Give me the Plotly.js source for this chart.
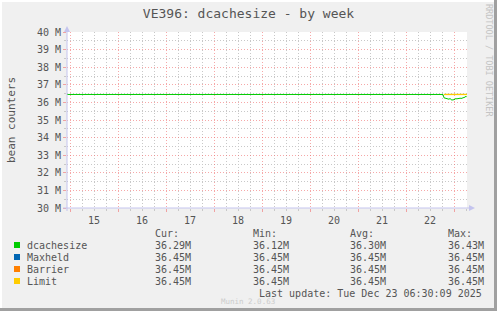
<!DOCTYPE html>
<html>
<head>
<meta charset="utf-8">
<script src="https://cdn.plot.ly/plotly-3.0.1.min.js"></script>
<style>
html,body{margin:0;padding:0;background:#f0f0f0;}
#chart{width:497px;height:311px;}
</style>
</head>
<body>
<div id="chart"></div>
<script>
// ---- data ----
const chartTitle = 'VE396: dcachesize - by week';
const yAxisLabel = 'bean counters';
const xRange = ['2025-12-14 22:30', '2025-12-23 06:30'];

const dcTimes = [
  '2025-12-14 22:30', '2025-12-15 12:00', '2025-12-16 12:00', '2025-12-17 12:00',
  '2025-12-18 12:00', '2025-12-19 12:00', '2025-12-20 12:00', '2025-12-21 12:00',
  '2025-12-22 12:00', '2025-12-22 18:30',
  '2025-12-22 19:00', '2025-12-22 19:30', '2025-12-22 20:00', '2025-12-22 20:30',
  '2025-12-22 21:00', '2025-12-22 21:30', '2025-12-22 22:00', '2025-12-22 22:30',
  '2025-12-22 23:00', '2025-12-22 23:30', '2025-12-23 00:00', '2025-12-23 00:30',
  '2025-12-23 01:00', '2025-12-23 01:30', '2025-12-23 02:00', '2025-12-23 02:30',
  '2025-12-23 03:00', '2025-12-23 03:30', '2025-12-23 04:00', '2025-12-23 04:30',
  '2025-12-23 05:00', '2025-12-23 05:30', '2025-12-23 06:00', '2025-12-23 06:30'
];
const dcValues = [
  36.45, 36.45, 36.45, 36.45, 36.45, 36.45, 36.45, 36.45, 36.45, 36.45,
  36.26, 36.24, 36.22, 36.24, 36.20, 36.18, 36.22, 36.15,
  36.12, 36.16, 36.14, 36.19, 36.22, 36.19, 36.23, 36.21,
  36.25, 36.22, 36.24, 36.22, 36.26, 36.30, 36.35, 36.29
];
const maxheldTimes = ['2025-12-22 19:00', '2025-12-23 06:30'];
const maxheldValues = [36.45, 36.45];
const barrierTimes = ['2025-12-22 19:00', '2025-12-23 06:30'];
const barrierValues = [36.45, 36.45];
const limitTimes = ['2025-12-22 19:00', '2025-12-23 06:30'];
const limitValues = [36.45, 36.45];

const seriesNames = ['dcachesize', 'Maxheld', 'Barrier', 'Limit'];
const seriesColors = ['#00CC00', '#0066B3', '#FF8000', '#FFCC00'];
const statHeaders = ['Cur:', 'Min:', 'Avg:', 'Max:'];
const curVals = ['36.29M', '36.45M', '36.45M', '36.45M'];
const minVals = ['36.12M', '36.45M', '36.45M', '36.45M'];
const avgVals = ['36.30M', '36.45M', '36.45M', '36.45M'];
const maxVals = ['36.43M', '36.45M', '36.45M', '36.45M'];
const lastUpdate = 'Last update: Tue Dec 23 06:30:09 2025';
const muninVersion = 'Munin 2.0.63';
const rrdCredit = 'RRDTOOL / TOBI OETIKER';

// ---- layout helpers (pixel -> paper) ----
const W = 497, H = 311;
const L = 67, R = 467, T = 32, B = 208;
const px = x => (x - L) / (R - L);
const py = y => (B - y) / (B - T);
const FONT = 'DejaVu Sans Mono';
const TXT = '#555555';

const traces = [
  {x: dcTimes, y: dcValues, name: seriesNames[0], mode: 'lines', line: {color: seriesColors[0], width: 1}},
  {x: maxheldTimes, y: maxheldValues, name: seriesNames[1], mode: 'lines', line: {color: seriesColors[1], width: 1}},
  {x: barrierTimes, y: barrierValues, name: seriesNames[2], mode: 'lines', line: {color: seriesColors[2], width: 1}},
  {x: limitTimes, y: limitValues, name: seriesNames[3], mode: 'lines', line: {color: seriesColors[3], width: 1.3}}
];

const annotations = [];
const shapes = [];

// y-axis title
annotations.push({xref: 'paper', yref: 'paper', x: px(11), y: py(120), text: yAxisLabel,
  textangle: -90, showarrow: false, xanchor: 'center', yanchor: 'middle',
  font: {family: FONT, size: 11, color: TXT}});
// rrdtool credit
annotations.push({xref: 'paper', yref: 'paper', x: px(489), y: py(60), text: rrdCredit,
  textangle: 90, showarrow: false, xanchor: 'center', yanchor: 'middle',
  font: {family: FONT, size: 8.5, color: '#c4c4c4'}});

// legend table
const colX = [154, 252, 349, 447];
const rowY = [245, 257, 269, 281];
statHeaders.forEach((h, i) => {
  annotations.push({xref: 'paper', yref: 'paper', x: px(colX[i] - 1), y: py(233), text: h,
    showarrow: false, xanchor: 'left', yanchor: 'middle', font: {family: FONT, size: 10, color: TXT}});
});
const statCols = [curVals, minVals, avgVals, maxVals];
seriesNames.forEach((n, r) => {
  shapes.push({type: 'rect', xref: 'paper', yref: 'paper', x0: px(14), x1: px(20),
    y0: py(rowY[r] - 3), y1: py(rowY[r] + 3), fillcolor: seriesColors[r], line: {width: 0}});
  annotations.push({xref: 'paper', yref: 'paper', x: px(25), y: py(rowY[r]), text: n,
    showarrow: false, xanchor: 'left', yanchor: 'middle', font: {family: FONT, size: 10, color: TXT}});
  statCols.forEach((col, c) => {
    annotations.push({xref: 'paper', yref: 'paper', x: px(colX[c] - 1), y: py(rowY[r]), text: col[r],
      showarrow: false, xanchor: 'left', yanchor: 'middle', font: {family: FONT, size: 10, color: TXT}});
  });
});
annotations.push({xref: 'paper', yref: 'paper', x: px(484), y: py(293), text: lastUpdate,
  showarrow: false, xanchor: 'right', yanchor: 'middle', font: {family: FONT, size: 10, color: TXT}});
annotations.push({xref: 'paper', yref: 'paper', x: px(248), y: py(301), text: muninVersion,
  showarrow: false, xanchor: 'center', yanchor: 'middle', font: {family: FONT, size: 7.5, color: '#cccccc'}});

// axis arrows
const axisCol = '#c4c4ee';
shapes.push({type: 'line', xref: 'paper', yref: 'paper', x0: px(67), x1: px(67), y0: py(211), y1: py(30),
  line: {color: axisCol, width: 1}});
shapes.push({type: 'line', xref: 'paper', yref: 'paper', x0: px(63), x1: px(471), y0: py(208), y1: py(208),
  line: {color: axisCol, width: 1}});
shapes.push({type: 'path', xref: 'paper', yref: 'paper',
  path: `M ${px(64)} ${py(32)} L ${px(70)} ${py(32)} L ${px(67)} ${py(26)} Z`,
  fillcolor: axisCol, line: {width: 0}});
shapes.push({type: 'path', xref: 'paper', yref: 'paper',
  path: `M ${px(469)} ${py(205)} L ${px(469)} ${py(211)} L ${px(475)} ${py(208)} Z`,
  fillcolor: axisCol, line: {width: 0}});

// image border
shapes.push({type: 'rect', xref: 'paper', yref: 'paper', x0: px(494), x1: px(498), y0: py(-1), y1: py(312),
  fillcolor: '#a0a0a0', line: {width: 0}, layer: 'above'});
shapes.push({type: 'rect', xref: 'paper', yref: 'paper', x0: px(-1), x1: px(498), y0: py(308), y1: py(312),
  fillcolor: '#a0a0a0', line: {width: 0}, layer: 'above'});
shapes.push({type: 'rect', xref: 'paper', yref: 'paper', x0: px(-1), x1: px(2), y0: py(308), y1: py(-1),
  fillcolor: '#ffffff', line: {width: 0}, layer: 'above'});
shapes.push({type: 'rect', xref: 'paper', yref: 'paper', x0: px(-1), x1: px(494), y0: py(2), y1: py(-1),
  fillcolor: '#ffffff', line: {width: 0}, layer: 'above'});

const majorGrid = 'rgba(240,110,110,0.6)';
const minorGrid = '#c8c8c8';
const dotDash = '1px,2px';

const layout = {
  width: W, height: H,
  margin: {l: L, r: W - R, t: T, b: H - B, pad: 0},
  paper_bgcolor: '#f0f0f0',
  plot_bgcolor: '#ffffff',
  showlegend: false,
  title: {text: chartTitle, font: {family: FONT, size: 13, color: TXT},
    x: 0.5, xanchor: 'center', xref: 'container', y: 1 - 13 / H, yref: 'container', yanchor: 'middle'},
  xaxis: {
    type: 'date', range: xRange, fixedrange: true,
    tick0: '2025-12-15', dtick: 86400000, ticklabelmode: 'period', tickformat: '%d',
    showgrid: true, gridcolor: majorGrid, griddash: dotDash, gridwidth: 1,
    ticks: 'outside', ticklen: 3, tickcolor: majorGrid,
    tickfont: {family: FONT, size: 10, color: TXT},
    showline: false, zeroline: false,
    minor: {dtick: 6 * 3600000, tick0: '2025-12-15', showgrid: true, gridcolor: minorGrid, griddash: dotDash,
      ticks: 'outside', ticklen: 2, tickcolor: minorGrid}
  },
  yaxis: {
    range: [30, 40], dtick: 1, tick0: 30, ticksuffix: ' M', fixedrange: true,
    showgrid: true, gridcolor: majorGrid, griddash: dotDash, gridwidth: 1,
    ticks: 'outside', ticklen: 3, tickcolor: majorGrid,
    tickfont: {family: FONT, size: 10, color: TXT},
    showline: false, zeroline: false,
    minor: {dtick: 0.5, showgrid: true, gridcolor: minorGrid, griddash: dotDash, ticks: 'outside', ticklen: 2, tickcolor: minorGrid}
  },
  annotations: annotations,
  shapes: shapes
};

Plotly.newPlot('chart', traces, layout, {staticPlot: true, displayModeBar: false});
</script>
</body>
</html>
